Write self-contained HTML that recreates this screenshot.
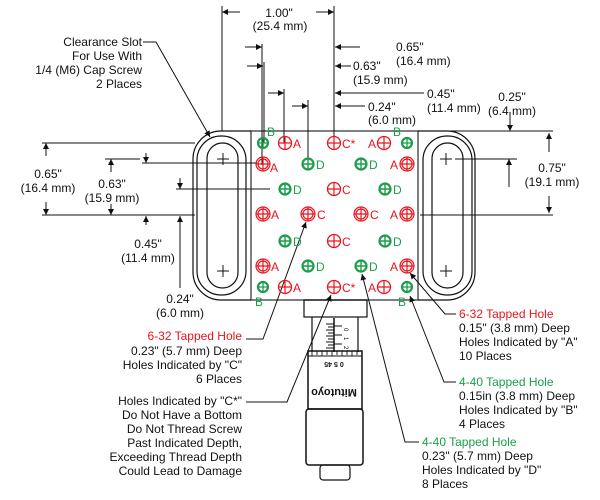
<!DOCTYPE html>
<html><head><meta charset="utf-8"><style>
html,body{margin:0;padding:0;background:#fff;}
svg{display:block;}
text{font-family:"Liberation Sans Narrow","Liberation Sans",sans-serif;font-size:12px;fill:#111;}
.r{fill:#e8141c;} .g{fill:#1a9e4a;}
</style></head><body>
<svg width="600" height="500" viewBox="0 0 600 500" xmlns="http://www.w3.org/2000/svg">
<defs>
<marker id="ar" viewBox="0 0 10 10" refX="10" refY="5" markerWidth="7" markerHeight="6" orient="auto-start-reverse" markerUnits="userSpaceOnUse"><path d="M0,0L10,5L0,10z" fill="#111"/></marker>
<g id="hr"><circle r="6.5" fill="none" stroke="#e8141c" stroke-width="1.3"/><path d="M-6.5,0H6.5M0,-6.5V6.5" stroke="#e8141c" stroke-width="1.2"/></g>
<g id="hra"><circle r="7" fill="none" stroke="#e8141c" stroke-width="1.2"/><circle r="5" fill="none" stroke="#e8141c" stroke-width="1.2"/><path d="M-7,0H7M0,-7V7" stroke="#e8141c" stroke-width="1.2"/></g>
<g id="hg"><circle r="5.5" fill="none" stroke="#1a9e4a" stroke-width="2.2"/><path d="M-5.5,0H5.5M0,-5.5V5.5" stroke="#1a9e4a" stroke-width="1.4"/></g>
<g id="hb"><circle r="5" fill="none" stroke="#1a9e4a" stroke-width="2.2"/><path d="M-5,0H5M0,-5V5" stroke="#1a9e4a" stroke-width="1.3"/></g>
</defs>
<g fill="none" stroke="#111" stroke-width="1">
<!-- plate -->
<rect x="251" y="131" width="167" height="169" stroke="#555" stroke-width="1.5"/>
<!-- left tab -->
<path d="M251,131H221A28,28 0 0 0 193,159V272A28,28 0 0 0 221,300H251" stroke-width="1.2"/>
<rect x="197" y="136" width="49" height="159" rx="24" stroke-width="1.2"/>
<rect x="207" y="143" width="31" height="145" rx="15.5" stroke-width="1.2"/>
<path d="M217,159h12M223,153v12M217,271h12M223,265v12"/>
<!-- right tab -->
<path d="M418,131H447A28,28 0 0 1 475,159V272A28,28 0 0 1 447,300H418" stroke-width="1.2"/>
<rect x="423" y="136" width="49" height="159" rx="24" stroke-width="1.2"/>
<rect x="432" y="143" width="31" height="145" rx="15.5" stroke-width="1.2"/>
<path d="M440,159h12M446,153v12M440,271h12M446,265v12"/>

<!-- top dims -->
<path d="M222,6V131M334,6V143M262,44V165M264,62V143M284,89V143M308,100V164"/>
<path d="M240,12H222" marker-end="url(#ar)"/><path d="M316,12H334" marker-end="url(#ar)"/>
<path d="M245,47H262" marker-end="url(#ar)"/>
<path d="M247,66H263" marker-end="url(#ar)"/>
<path d="M268,93H284" marker-end="url(#ar)"/>
<path d="M292,106H308" marker-end="url(#ar)"/>
<path d="M360,47H335" marker-end="url(#ar)"/>
<path d="M351,66H335" marker-end="url(#ar)"/>
<path d="M424,93H335" marker-end="url(#ar)"/>
<path d="M365,106H335" marker-end="url(#ar)"/>

<!-- right dims -->
<path d="M420,131H553M455,159H517M420,215H553"/>
<path d="M510,112V131" marker-end="url(#ar)"/>
<path d="M509,187V159" marker-end="url(#ar)"/>
<path d="M549,152V133" marker-end="url(#ar)"/>
<path d="M549,196V213" marker-end="url(#ar)"/>

<!-- left dims -->
<path d="M42,143H195M105,159H140M142,163H257M176,189H270M42,215H195"/>
<path d="M46,156V143" marker-end="url(#ar)"/>
<path d="M46,202V215" marker-end="url(#ar)"/>
<path d="M111,172V159" marker-end="url(#ar)"/>
<path d="M111,204V215" marker-end="url(#ar)"/>
<path d="M146,153V163" marker-end="url(#ar)"/>
<path d="M146,225V216" marker-end="url(#ar)"/>
<path d="M180,178V189" marker-end="url(#ar)"/>
<path d="M180,288V216" marker-end="url(#ar)"/>

<!-- leaders -->
<path d="M143,42H156L210,137" marker-end="url(#ar)"/>
<path d="M246,339H263L306,222" marker-end="url(#ar)"/>
<path d="M246,402H287L331,295" marker-end="url(#ar)"/>
<path d="M456,314H445L410,273" marker-end="url(#ar)"/>
<path d="M456,382H444L410,296" marker-end="url(#ar)"/>
<path d="M419,442H405L362,274" marker-end="url(#ar)"/>

<!-- micrometer -->
<rect x="304" y="300" width="63" height="17" stroke-width="1.2"/>
<path d="M312,317V352M358,317V352" stroke-width="1.2"/>
<path d="M334,318V352" stroke-width="1.5"/>
<path d="M326,324h8M328,327h6M326,330h8M328,333h6M326,336h8M328,339h6M326,342h8M328,345h6M326,348h8" stroke-width="0.9"/>
<path d="M334,326h8M334,335h8M334,344h8" stroke-width="0.9"/>
<rect x="308" y="351" width="54" height="58" stroke-width="1.5"/>
<path d="M308,356H362M312,351v5M317,351v4M322,351v5M327,351v4M332,351v5M337,351v4M342,351v5M347,351v4M352,351v5M357,351v4" stroke-width="0.9"/>
<rect x="306" y="409" width="57" height="56" rx="3" stroke-width="1.5"/>
<rect x="320" y="465" width="30" height="15" rx="3" stroke-width="1.2"/>
</g>
<text x="344" y="328" font-size="6" transform="rotate(90 344 328)" style="font-size:6px">0</text>
<text x="344" y="337" style="font-size:6px" transform="rotate(90 344 337)">1</text>
<text x="344" y="346" style="font-size:6px" transform="rotate(90 344 346)">2</text>
<text x="334" y="362" text-anchor="middle" transform="rotate(180 334 362)" style="font-size:7px;font-weight:bold">0 5 45</text>
<text x="334" y="389" text-anchor="middle" transform="rotate(180 334 389)" style="font-size:11px;font-weight:bold">Mitutoyo</text>

<!-- holes -->
<use href="#hb" x="263" y="143"/><use href="#hr" x="285" y="143"/><use href="#hr" x="334" y="143"/><use href="#hr" x="384" y="143"/><use href="#hb" x="407" y="143"/>
<use href="#hra" x="263" y="164"/><use href="#hg" x="308" y="164"/><use href="#hg" x="361" y="164"/><use href="#hra" x="407" y="164"/>
<use href="#hg" x="285" y="189"/><use href="#hr" x="334" y="189"/><use href="#hg" x="385" y="189"/>
<use href="#hra" x="263" y="214"/><use href="#hra" x="308" y="214"/><use href="#hra" x="361" y="214"/><use href="#hra" x="407" y="214"/>
<use href="#hg" x="285" y="241"/><use href="#hr" x="334" y="241"/><use href="#hg" x="385" y="241"/>
<use href="#hra" x="263" y="266"/><use href="#hg" x="308" y="266"/><use href="#hg" x="361" y="266"/><use href="#hra" x="407" y="266"/>
<use href="#hb" x="263" y="287"/><use href="#hr" x="285" y="287"/><use href="#hr" x="334" y="287"/><use href="#hr" x="384" y="287"/><use href="#hb" x="407" y="287"/>

<g style="font-size:12px">
<text class="g" x="267" y="136">B</text><text class="r" x="293" y="148">A</text><text class="r" x="342" y="148">C*</text><text class="r" x="368" y="148">A</text><text class="g" x="393" y="136">B</text>
<text class="r" x="270" y="172">A</text><text class="g" x="316" y="169">D</text><text class="g" x="369" y="169">D</text><text class="r" x="390" y="169">A</text>
<text class="g" x="293" y="194">D</text><text class="r" x="342" y="194">C</text><text class="g" x="393" y="194">D</text>
<text class="r" x="271" y="219">A</text><text class="r" x="317" y="219">C</text><text class="r" x="370" y="219">C</text><text class="r" x="390" y="219">A</text>
<text class="g" x="293" y="246">D</text><text class="r" x="342" y="246">C</text><text class="g" x="393" y="246">D</text>
<text class="r" x="271" y="271">A</text><text class="g" x="316" y="271">D</text><text class="g" x="369" y="271">D</text><text class="r" x="390" y="271">A</text>
<text class="r" x="293" y="292">A</text><text class="r" x="342" y="292">C*</text><text class="r" x="368" y="292">A</text>
<text class="g" x="255" y="306">B</text><text class="g" x="398" y="306">B</text>
</g>

<!-- dim labels -->
<g text-anchor="middle">
<text x="279" y="17">1.00"</text><text x="280" y="30">(25.4 mm)</text>
<text x="48" y="178">0.65"</text><text x="48" y="192">(16.4 mm)</text>
<text x="112" y="188">0.63"</text><text x="112" y="202">(15.9 mm)</text>
<text x="148" y="248">0.45"</text><text x="148" y="262">(11.4 mm)</text>
<text x="180" y="303">0.24"</text><text x="180" y="317">(6.0 mm)</text>
<text x="552" y="172">0.75"</text><text x="552" y="186">(19.1 mm)</text>
<text x="512" y="101">0.25"</text><text x="512" y="115">(6.4 mm)</text>
</g>
<text x="396" y="51">0.65"</text><text x="396" y="65">(16.4 mm)</text>
<text x="353" y="70">0.63"</text><text x="353" y="84">(15.9 mm)</text>
<text x="427" y="98">0.45"</text><text x="427" y="112">(11.4 mm)</text>
<text x="368" y="111">0.24"</text><text x="368" y="124">(6.0 mm)</text>

<g text-anchor="end">
<text x="142" y="46">Clearance Slot</text><text x="142" y="60">For Use With</text><text x="142" y="74">1/4 (M6) Cap Screw</text><text x="142" y="88">2 Places</text>
<text x="242" y="340" class="r">6-32 Tapped Hole</text><text x="242" y="355">0.23" (5.7 mm) Deep</text><text x="242" y="369">Holes Indicated by "C"</text><text x="242" y="383">6 Places</text>
<text x="242" y="405">Holes Indicated by "C*"</text><text x="242" y="419">Do Not Have a Bottom</text><text x="242" y="433">Do Not Thread Screw</text><text x="242" y="447">Past Indicated Depth,</text><text x="242" y="461">Exceeding Thread Depth</text><text x="242" y="475">Could Lead to Damage</text>
</g>
<text x="459" y="318" class="r">6-32 Tapped Hole</text><text x="459" y="332">0.15" (3.8 mm) Deep</text><text x="459" y="346">Holes Indicated by "A"</text><text x="459" y="360">10 Places</text>
<text x="459" y="386" class="g">4-40 Tapped Hole</text><text x="459" y="400">0.15in (3.8 mm) Deep</text><text x="459" y="414">Holes Indicated by "B"</text><text x="459" y="428">4 Places</text>
<text x="422" y="446" class="g">4-40 Tapped Hole</text><text x="422" y="460">0.23" (5.7 mm) Deep</text><text x="422" y="474">Holes Indicated by "D"</text><text x="422" y="488">8 Places</text>
</svg>
</body></html>
